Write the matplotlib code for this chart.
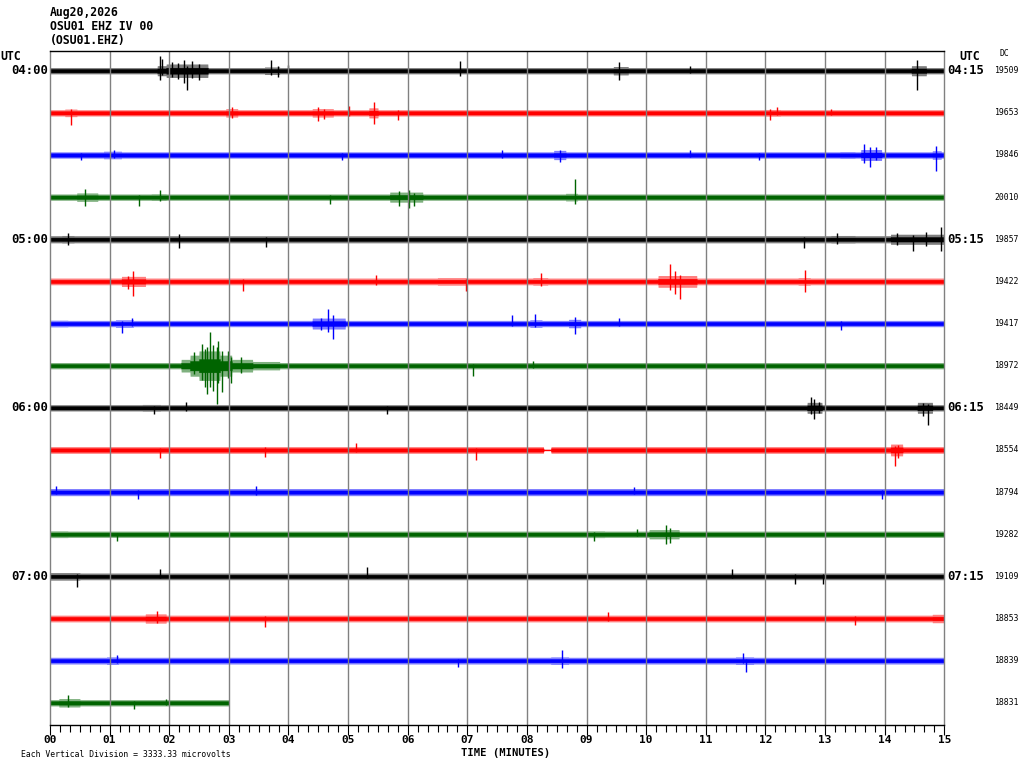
import numpy as np
import matplotlib
matplotlib.use('Agg')
import matplotlib.pyplot as plt
from matplotlib.ticker import MultipleLocator

# header / station info
date_str = 'Aug20,2026'
station_str = 'OSU01 EHZ IV 00'
chan_str = '(OSU01.EHZ)'
scale_note = 'Each Vertical Division = 3333.33 microvolts'

minute_labels = ['%02d' % m for m in range(16)]
left_times = ['04:00', '', '', '', '05:00', '', '', '', '06:00', '', '', '', '07:00', '', '', '']
right_times = ['04:15', '', '', '', '05:15', '', '', '', '06:15', '', '', '', '07:15', '', '', '']
dc_values = [19509, 19653, 19846, 20010, 19857, 19422, 19417, 18972,
             18449, 18554, 18794, 19282, 19109, 18853, 18839, 18831]
trace_colors = ['black', 'red', 'blue', '#006400'] * 4
trace_end = [15.0] * 15 + [3.0]

# background noise half-width of each line (vertical divisions)
noise_level = [0.075, 0.075, 0.075, 0.075, 0.085, 0.08, 0.075, 0.075,
               0.075, 0.08, 0.085, 0.075, 0.08, 0.08, 0.08, 0.075]

# stretches of louder signal: (start min, end min, half-width)
bursts = [
    [(1.8, 1.95, 0.12), (1.95, 2.65, 0.16), (3.6, 3.85, 0.09), (9.45, 9.7, 0.1), (14.45, 14.7, 0.12)],
    [(0.25, 0.45, 0.09), (2.95, 3.15, 0.1), (4.4, 4.75, 0.1), (5.35, 5.5, 0.12), (12.0, 12.25, 0.08)],
    [(0.9, 1.2, 0.09), (8.45, 8.65, 0.11), (13.25, 13.5, 0.08), (13.6, 13.95, 0.13), (14.8, 14.95, 0.1)],
    [(0.45, 0.8, 0.1), (1.7, 1.95, 0.08), (5.7, 6.25, 0.12), (8.65, 8.85, 0.09)],
    [(0.2, 0.4, 0.09), (2.1, 2.3, 0.08), (13.1, 13.5, 0.09), (14.1, 15.0, 0.12)],
    [(1.2, 1.6, 0.12), (3.2, 3.3, 0.08), (6.5, 7.0, 0.09), (8.1, 8.35, 0.09), (10.2, 10.85, 0.14),
     (11.5, 11.8, 0.08), (12.55, 12.75, 0.09)],
    [(0.0, 0.3, 0.08), (1.1, 1.4, 0.09), (4.4, 4.95, 0.13), (8.05, 8.25, 0.09), (8.7, 8.9, 0.1)],
    [(2.2, 2.35, 0.15), (2.35, 2.5, 0.25), (2.5, 2.85, 0.35), (2.85, 3.05, 0.25), (3.05, 3.4, 0.15),
     (3.4, 3.85, 0.1)],
    [(1.55, 1.85, 0.08), (12.7, 12.95, 0.13), (14.55, 14.8, 0.13)],
    [(2.3, 2.55, 0.08), (3.15, 3.5, 0.08), (5.1, 5.2, 0.08), (14.1, 14.3, 0.14)],
    [],
    [(0.0, 0.3, 0.08), (9.0, 9.3, 0.08), (10.05, 10.55, 0.11)],
    [(0.0, 0.5, 0.09), (1.4, 1.9, 0.08), (11.0, 11.5, 0.08)],
    [(1.6, 1.95, 0.11), (14.8, 15.0, 0.1)],
    [(0.95, 1.15, 0.09), (8.4, 8.7, 0.09), (11.5, 11.8, 0.09), (14.0, 15.0, 0.08)],
    [(0.15, 0.5, 0.1)],
]

# dead stretches (flat line)
quiet = [[], [], [], [], [], [], [], [], [], [(8.28, 8.40)], [], [], [], [], [], []]

# single spikes: (minute, up, down) in vertical divisions
spikes = [
    [(1.85, 0.36, 0.21), (1.88, 0.28, 0.1), (2.05, 0.2, 0.15), (2.15, 0.18, 0.2), (2.25, 0.26, 0.3),
     (2.30, 0.12, 0.45), (2.38, 0.22, 0.18), (2.5, 0.15, 0.22), (3.7, 0.26, 0.1), (3.82, 0.12, 0.15),
     (3.99, 0.14, 0.05), (6.87, 0.24, 0.12), (9.54, 0.2, 0.21), (10.73, 0.12, 0.06), (14.55, 0.26, 0.45)],
    [(0.35, 0.08, 0.29), (3.05, 0.13, 0.13), (4.5, 0.14, 0.19), (4.6, 0.1, 0.15), (5.01, 0.16, 0.08),
     (5.43, 0.26, 0.27), (5.84, 0.06, 0.17), (12.07, 0.1, 0.17), (12.2, 0.13, 0.06), (13.1, 0.1, 0.06)],
    [(0.52, 0.04, 0.11), (1.07, 0.13, 0.08), (4.9, 0.05, 0.11), (7.58, 0.13, 0.07), (8.55, 0.13, 0.17),
     (10.73, 0.13, 0.05), (11.9, 0.05, 0.13), (13.65, 0.25, 0.2), (13.75, 0.18, 0.29), (13.85, 0.2, 0.12),
     (14.86, 0.21, 0.37)],
    [(0.59, 0.2, 0.22), (1.5, 0.05, 0.2), (1.84, 0.17, 0.1), (4.69, 0.05, 0.16), (5.85, 0.15, 0.2),
     (6.02, 0.17, 0.26), (6.1, 0.1, 0.2), (8.8, 0.44, 0.17)],
    [(0.3, 0.14, 0.13), (2.16, 0.12, 0.2), (3.63, 0.05, 0.18), (12.64, 0.05, 0.2), (13.2, 0.15, 0.12),
     (14.2, 0.15, 0.13), (14.48, 0.1, 0.29), (14.7, 0.18, 0.15), (14.94, 0.3, 0.29)],
    [(1.39, 0.24, 0.34), (1.3, 0.12, 0.18), (3.24, 0.05, 0.22), (5.46, 0.16, 0.08), (6.97, 0.06, 0.22),
     (8.24, 0.19, 0.1), (10.4, 0.41, 0.2), (10.48, 0.25, 0.3), (10.57, 0.15, 0.41), (12.67, 0.28, 0.24)],
    [(1.21, 0.06, 0.23), (1.37, 0.13, 0.05), (4.67, 0.35, 0.2), (4.75, 0.2, 0.37), (4.55, 0.12, 0.16),
     (7.75, 0.21, 0.05), (8.14, 0.22, 0.08), (8.8, 0.16, 0.24), (9.54, 0.14, 0.05), (13.27, 0.05, 0.15)],
    [(2.42, 0.32, 0.2), (2.55, 0.52, 0.35), (2.6, 0.4, 0.5), (2.64, 0.45, 0.67), (2.69, 0.79, 0.5),
     (2.74, 0.5, 0.6), (2.80, 0.45, 0.9), (2.82, 0.58, 0.4), (2.89, 0.35, 0.63), (2.98, 0.36, 0.3),
     (3.03, 0.2, 0.41), (3.2, 0.2, 0.18), (7.1, 0.05, 0.24), (8.1, 0.1, 0.05)],
    [(2.28, 0.15, 0.08), (1.75, 0.05, 0.15), (5.65, 0.05, 0.15), (12.77, 0.25, 0.15), (12.82, 0.2, 0.26),
     (12.9, 0.15, 0.12), (14.65, 0.12, 0.2), (14.72, 0.1, 0.4)],
    [(1.84, 0.05, 0.2), (3.6, 0.06, 0.17), (5.14, 0.16, 0.06), (7.15, 0.05, 0.24), (14.18, 0.1, 0.38),
     (14.22, 0.12, 0.2)],
    [(0.1, 0.14, 0.05), (1.48, 0.05, 0.16), (3.45, 0.14, 0.06), (9.8, 0.12, 0.05), (13.95, 0.05, 0.16)],
    [(1.12, 0.04, 0.15), (9.12, 0.05, 0.17), (9.85, 0.13, 0.05), (10.33, 0.21, 0.23), (10.4, 0.14, 0.2)],
    [(0.46, 0.05, 0.25), (1.84, 0.18, 0.05), (5.31, 0.22, 0.05), (11.44, 0.18, 0.05), (12.5, 0.05, 0.18),
     (12.96, 0.05, 0.18)],
    [(1.8, 0.17, 0.1), (3.6, 0.05, 0.2), (9.36, 0.15, 0.05), (13.5, 0.05, 0.15)],
    [(1.12, 0.13, 0.05), (8.59, 0.25, 0.18), (11.62, 0.18, 0.05), (11.68, 0.05, 0.26), (6.85, 0.05, 0.15)],
    [(0.3, 0.19, 0.1), (1.41, 0.05, 0.15), (1.95, 0.1, 0.05)],
]

W, H = 1024, 768
mono = 'DejaVu Sans Mono'
core_half = 0.04

fig = plt.figure(figsize=(W / 100, H / 100), dpi=100)
ax = fig.add_axes([50 / W, 1 - 724.7 / H, 894.3 / W, 674 / H])

n_traces = len(dc_values)
for i in range(n_traces):
    col = trace_colors[i]
    x = np.linspace(0, trace_end[i], int(trace_end[i] * 300) + 1)
    env = np.full_like(x, noise_level[i])
    for t0, t1, a in bursts[i]:
        m = (x >= t0) & (x <= t1)
        env[m] = np.maximum(env[m], a)
    core = np.maximum(core_half, 0.45 * env)
    for t0, t1 in quiet[i]:
        m = (x >= t0) & (x <= t1)
        env[m] = 0.012
        core[m] = 0.012
    # hairy fringe, then the solid core of the trace
    ax.fill_between(x, i - env, i + env, color=col, lw=0, alpha=0.5)
    ax.fill_between(x, i - core, i + core, color=col, lw=0.3)
    if spikes[i]:
        st, up, dn = zip(*spikes[i])
        ax.vlines(st, i + np.array(dn), i - np.array(up), color=col, lw=1.0)

# minute grid lines
ax.vlines(np.arange(1, 15), 0, 1, transform=ax.get_xaxis_transform(), color='#808080', lw=1.0)

ax.set_xlim(0, 15)
ax.set_ylim(n_traces - 0.48, -0.475)
ax.set_yticks([])
ax.set_xticks(np.arange(16))
ax.set_xticklabels(minute_labels, fontfamily=mono, fontweight='bold', fontsize=8.0)
ax.xaxis.set_minor_locator(MultipleLocator(1 / 6))
ax.tick_params(axis='x', which='major', length=7.2, width=0.8, pad=0.3, direction='out')
ax.tick_params(axis='x', which='minor', length=4.8, width=0.8, direction='out')
for s in ['left', 'right']:
    ax.spines[s].set_color('#808080')
    ax.spines[s].set_linewidth(1.0)
for s in ['top', 'bottom']:
    ax.spines[s].set_color('black')
    ax.spines[s].set_linewidth(1.0)

# time labels and DC offsets
ytr = ax.get_yaxis_transform()
for i in range(n_traces):
    if left_times[i]:
        ax.text(-0.0017, i, left_times[i], transform=ytr, ha='right', va='center',
                fontfamily=mono, fontweight='bold', fontsize=8.8)
    if right_times[i]:
        ax.text(1.0038, i, right_times[i], transform=ytr, ha='left', va='center',
                fontfamily=mono, fontweight='bold', fontsize=8.8)
    ax.text(1.0563, i, str(dc_values[i]), transform=ytr, ha='left', va='center',
            fontfamily=mono, fontsize=5.9)


def px(x, y):
    return x / W, 1 - y / H


fig.text(*px(50, 12.3), date_str, ha='left', va='center', fontfamily=mono, fontweight='bold', fontsize=8.3)
fig.text(*px(50, 26.0), station_str, ha='left', va='center', fontfamily=mono, fontweight='bold', fontsize=8.3)
fig.text(*px(50, 40.7), chan_str, ha='left', va='center', fontfamily=mono, fontweight='bold', fontsize=8.3)
fig.text(*px(0, 56.7), 'UTC', ha='left', va='center', fontfamily=mono, fontweight='bold', fontsize=8.3)
fig.text(*px(959, 56.0), 'UTC', ha='left', va='center', fontfamily=mono, fontweight='bold', fontsize=8.3)
fig.text(*px(1000, 54.0), 'DC', ha='left', va='center', fontfamily=mono, fontsize=5.9)
fig.text(*px(461, 753.5), 'TIME (MINUTES)', ha='left', va='center', fontfamily=mono, fontweight='bold', fontsize=7.6)
fig.text(*px(20.7, 754.7), scale_note, ha='left', va='center', fontfamily=mono, fontsize=5.9)

fig.savefig('out.png', dpi=100)
